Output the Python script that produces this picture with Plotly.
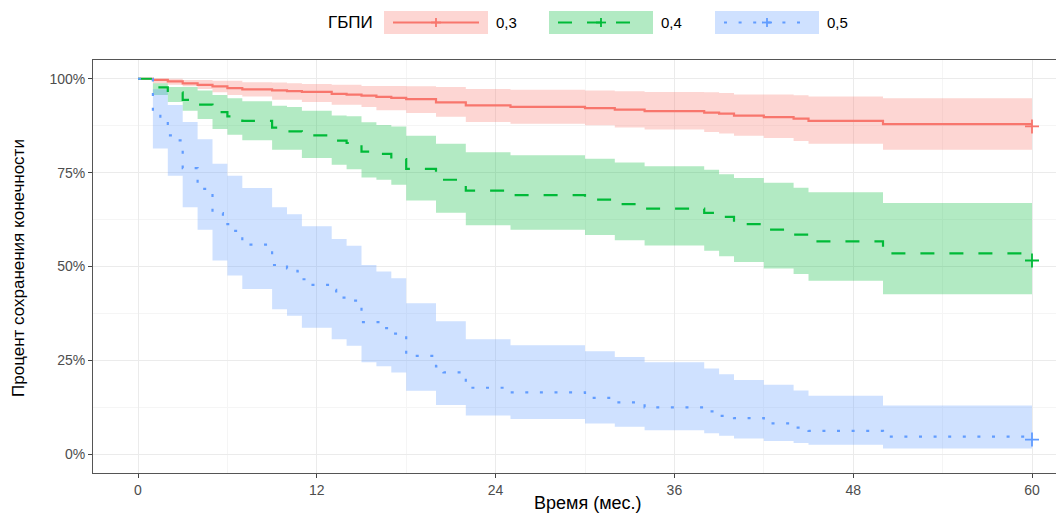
import plotly.graph_objects as go

# ---------------- data ----------------
groups = ["0,3", "0,4", "0,5"]
legend_title = "ГБПИ"
x_title = "Время (мес.)"
y_title = "Процент сохранения конечности"
x_ticks = [0, 12, 24, 36, 48, 60]
y_ticks = [0, 25, 50, 75, 100]
y_ticklabels = ["0%", "25%", "50%", "75%", "100%"]
end_time = 60

# Kaplan-Meier step curves (time of step, survival % after step)
red_t = [0, 1, 2, 3, 4, 5, 6, 7, 9, 10, 11, 13, 14, 15, 16, 17, 18, 20, 22, 25, 30, 32, 34, 38, 39, 40, 42, 44, 45, 50]
red_s = [100, 99.7, 99.3, 98.8, 98.4, 98.0, 97.5, 97.2, 96.9, 96.7, 96.5, 96.0, 95.8, 95.5, 95.2, 94.9, 94.6, 93.7, 92.9, 92.5, 92.2, 91.8, 91.4, 91.0, 90.7, 90.2, 89.8, 89.4, 88.8, 87.9]

green_t = [0, 1, 2, 3, 4, 5, 6, 7, 9, 10, 11, 13, 14, 15, 16, 17, 18, 20, 22, 25, 30, 32, 34, 38, 39, 40, 42, 44, 45, 50]
green_s = [100, 97.7, 96.4, 94.4, 93.1, 91.1, 90.0, 88.8, 87.0, 86.0, 84.9, 83.5, 82.9, 80.6, 80.0, 78.6, 76.0, 73.1, 70.2, 69.0, 67.8, 66.6, 65.4, 64.3, 63.2, 61.3, 59.8, 58.5, 56.7, 53.5]

blue_t = [0, 1, 1.5, 2, 2.6, 3, 4, 5, 5.7, 6, 6.4, 7, 9, 10, 10.7, 11, 11.5, 13, 13.3, 14, 14.8, 15, 16.5, 17, 18, 20, 20.5, 21.7, 22, 25, 30, 32, 34, 38, 39, 40, 42, 44, 45, 50]
blue_s = [100, 90.9, 88.5, 84.9, 83.6, 76.2, 70.7, 64.2, 63.3, 61.3, 59.5, 55.8, 50.4, 49.5, 48.7, 46.6, 45.1, 43.8, 41.7, 40.9, 40.2, 35.2, 33.6, 32.1, 26.2, 23.4, 21.8, 20.4, 17.7, 16.5, 15.0, 13.8, 12.5, 11.4, 10.2, 9.6, 8.2, 7.1, 6.2, 4.7]

# censor marks at the end of follow-up
censor_t = [60, 60, 60]
censor_s = [87.3, 51.6, 3.9]

# confidence bands (step times shared by the ribbons)
band_t = [0, 1, 2, 3, 4, 5, 6, 7, 9, 10, 11, 13, 14, 15, 16, 17, 18, 20, 22, 25, 30, 32, 34, 38, 39, 40, 42, 44, 45, 50]
red_hi = [100, 100, 100, 99.7, 99.7, 99.5, 99.5, 99.1, 99.0, 98.8, 98.6, 98.4, 98.4, 98.1, 98.1, 98.1, 98.0, 97.8, 97.3, 97.1, 96.9, 96.7, 96.5, 96.4, 96.2, 95.8, 95.8, 95.6, 95.3, 94.8]
red_lo = [100, 98.8, 98.4, 98.0, 97.3, 96.4, 95.7, 95.3, 94.4, 94.4, 93.8, 93.1, 93.1, 92.5, 91.6, 91.6, 90.9, 89.9, 88.5, 88.0, 87.6, 87.0, 86.5, 85.8, 85.4, 84.8, 84.2, 83.4, 82.7, 81.1]
green_hi = [100, 98.8, 97.8, 97.8, 96.9, 95.7, 94.8, 94.0, 92.8, 92.5, 91.5, 90.2, 90.0, 88.4, 87.7, 87.3, 84.8, 82.7, 80.4, 79.6, 78.7, 77.7, 76.7, 75.8, 74.6, 73.6, 72.3, 71.0, 69.8, 66.9]
green_lo = [100, 95.7, 93.8, 91.5, 89.3, 86.6, 85.1, 83.6, 81.1, 81.1, 78.9, 77.1, 75.9, 73.7, 73.1, 71.8, 67.6, 64.3, 61.0, 59.8, 58.4, 57.0, 55.6, 54.2, 52.7, 51.2, 49.5, 48.0, 46.2, 42.6]
blue_hi = [100, 97.2, 93.0, 88.5, 83.9, 77.4, 74.2, 70.9, 65.8, 63.9, 60.7, 57.3, 55.5, 50.4, 48.7, 46.9, 40.2, 35.4, 30.6, 29.0, 27.4, 25.9, 24.5, 22.8, 21.3, 19.8, 18.5, 17.0, 15.6, 13.0]
blue_lo = [100, 81.4, 74.2, 65.8, 59.8, 51.6, 47.6, 44.0, 38.6, 36.9, 33.7, 30.6, 28.9, 24.5, 23.4, 21.8, 16.9, 13.1, 10.3, 9.4, 8.2, 7.3, 6.4, 5.6, 4.9, 4.2, 3.5, 3.0, 2.5, 1.5]

# ---------------- styles ----------------
colors = ["#F8766D", "#00BA38", "#619CFF"]
fills = ["rgba(248,118,109,0.30)", "rgba(0,186,56,0.30)", "rgba(97,156,255,0.30)"]
dashes = ["solid", "14px,15px", "3px,11.6px"]
LW = 2.2
FONT = "Liberation Sans, Arial, sans-serif"

# the page body has an 8px margin: figure is placed at (8, 8) in the window
OFF = 8
WIN_W, WIN_H = 1064, 513
W, H = WIN_W - OFF, WIN_H - OFF
# plot area in window pixels
L, R, T, B = 93, 1064, 60, 473


def px_x(px):
    return (px - L) / (R - L)


def px_y(py):
    return (B - py) / (B - T)


curves = [(red_t, red_s), (green_t, green_s), (blue_t, blue_s)]
bands = [(red_lo, red_hi), (green_lo, green_hi), (blue_lo, blue_hi)]

fig = go.Figure()

# ribbons
for i, (lo, hi) in enumerate(bands):
    bx = band_t + [end_time]
    fig.add_trace(go.Scatter(x=bx, y=lo + [lo[-1]], mode="lines", line=dict(width=0, shape="hv"),
                             hoverinfo="skip", showlegend=False))
    fig.add_trace(go.Scatter(x=bx, y=hi + [hi[-1]], mode="lines", line=dict(width=0, shape="hv"),
                             fill="tonexty", fillcolor=fills[i], hoverinfo="skip", showlegend=False))

# curves
for i, (t, s) in enumerate(curves):
    fig.add_trace(go.Scatter(x=t + [end_time], y=s + [s[-1]], mode="lines",
                             line=dict(color=colors[i], width=LW, shape="hv", dash=dashes[i]),
                             name=groups[i], showlegend=False))

# censor marks
for i in range(3):
    fig.add_trace(go.Scatter(x=[censor_t[i]], y=[censor_s[i]], mode="markers",
                             marker=dict(symbol="cross-thin", size=10, line=dict(color=colors[i], width=1.8)),
                             showlegend=False, hoverinfo="skip"))

# ---------------- custom legend (ggplot-style keys) ----------------
shapes = []
annotations = []
box_left = [384, 549, 715]
box_w = 104
ky0, ky1 = 11, 34
kyc = 22.5
for i in range(3):
    x0 = box_left[i]
    shapes.append(dict(type="rect", xref="paper", yref="paper", x0=px_x(x0), x1=px_x(x0 + box_w),
                       y0=px_y(ky1), y1=px_y(ky0), fillcolor=fills[i], line=dict(width=0), layer="above"))
    shapes.append(dict(type="line", xref="paper", yref="paper", x0=px_x(x0 + 9), x1=px_x(x0 + box_w - 9),
                       y0=px_y(kyc), y1=px_y(kyc), line=dict(color=colors[i], width=LW, dash=dashes[i]),
                       layer="above"))
    cx = x0 + box_w / 2
    shapes.append(dict(type="line", xref="paper", yref="paper", x0=px_x(cx), x1=px_x(cx),
                       y0=px_y(kyc + 4.5), y1=px_y(kyc - 4.5), line=dict(color=colors[i], width=1.8), layer="above"))
    shapes.append(dict(type="line", xref="paper", yref="paper", x0=px_x(cx - 5), x1=px_x(cx + 5),
                       y0=px_y(kyc), y1=px_y(kyc), line=dict(color=colors[i], width=1.8), layer="above"))
    annotations.append(dict(text=groups[i], xref="paper", yref="paper", x=px_x(x0 + box_w + 6), y=px_y(kyc),
                            xanchor="left", yanchor="middle", showarrow=False,
                            font=dict(family=FONT, size=15, color="#000000")))

annotations.append(dict(text=legend_title, xref="paper", yref="paper", x=px_x(375), y=px_y(kyc),
                        xanchor="right", yanchor="middle", showarrow=False,
                        font=dict(family=FONT, size=17, color="#000000")))
# axis titles
annotations.append(dict(text=x_title, xref="paper", yref="paper", x=px_x(588), y=px_y(503),
                        xanchor="center", yanchor="middle", showarrow=False,
                        font=dict(family=FONT, size=18, color="#000000")))
annotations.append(dict(text=y_title, xref="paper", yref="paper", x=px_x(18), y=px_y(268),
                        xanchor="center", yanchor="middle", showarrow=False, textangle=-90,
                        font=dict(family=FONT, size=17, color="#000000")))

# x range so that 0 -> px 138 and 60 -> px 1032
xmin = -3.02
xmax = xmin + (R - L) / ((1032 - 138) / 60)

fig.update_layout(
    width=W, height=H,
    margin=dict(l=L - OFF, r=WIN_W - R, t=T - OFF, b=WIN_H - B),
    paper_bgcolor="white", plot_bgcolor="white",
    showlegend=False,
    shapes=shapes, annotations=annotations,
    xaxis=dict(range=[xmin, xmax], tickvals=x_ticks, ticktext=[str(v) for v in x_ticks],
               showgrid=True, gridcolor="#EBEBEB", gridwidth=1.1,
               minor=dict(tickvals=[6, 18, 30, 42, 54], showgrid=True, gridcolor="#F5F5F5", gridwidth=0.8),
               zeroline=False, showline=True, linecolor="#555555", linewidth=1, mirror=True,
               ticks="outside", ticklen=4, tickcolor="#444444", tickwidth=1,
               tickfont=dict(family=FONT, size=14, color="#4D4D4D")),
    yaxis=dict(range=[-5, 105], tickvals=y_ticks, ticktext=y_ticklabels,
               showgrid=True, gridcolor="#EBEBEB", gridwidth=1.1,
               minor=dict(tickvals=[12.5, 37.5, 62.5, 87.5], showgrid=True, gridcolor="#F5F5F5", gridwidth=0.8),
               zeroline=False, showline=True, linecolor="#555555", linewidth=1, mirror=False,
               ticks="outside", ticklen=4, tickcolor="#444444", tickwidth=1,
               tickfont=dict(family=FONT, size=14, color="#4D4D4D")),
)

fig.write_html("out.html")
